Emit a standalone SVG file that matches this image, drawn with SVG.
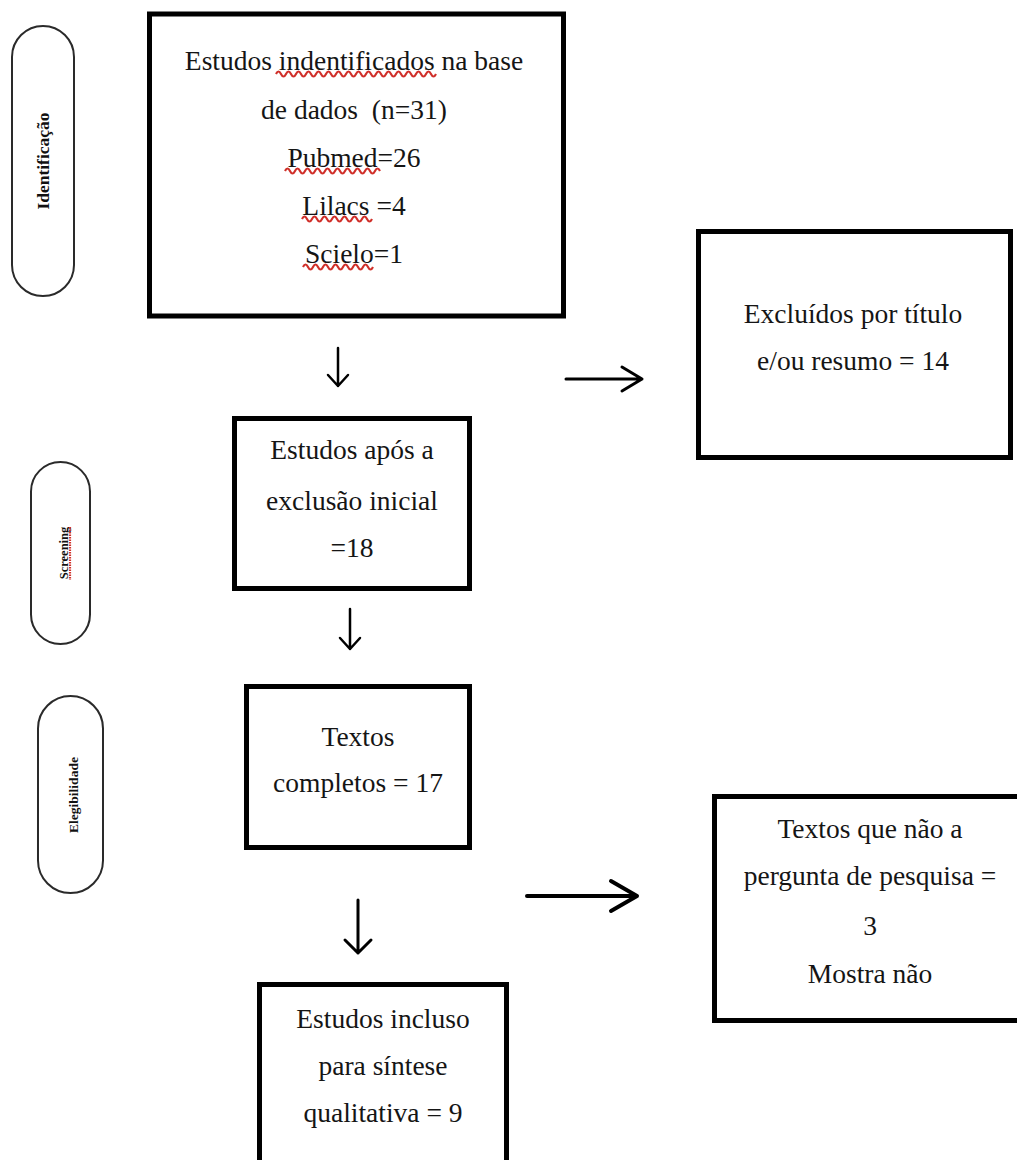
<svg xmlns="http://www.w3.org/2000/svg" width="1017" height="1160" viewBox="0 0 1017 1160">
<style>
.box{fill:#fff;stroke:#000;stroke-width:5}
.pill{fill:#fff;stroke:#2a2a2a;stroke-width:2}
.t{font-family:"Liberation Serif","Times New Roman",serif;font-size:27.5px;fill:#151515;text-anchor:middle}
.side{font-family:"Liberation Serif","Times New Roman",serif;font-weight:bold;fill:#111;text-anchor:middle}
.arr{fill:none;stroke:#000;stroke-linecap:round;stroke-linejoin:round}
.sq{fill:none;stroke:#d0302a;stroke-width:2.2}
</style>
<rect width="1017" height="1160" fill="#fff"/>

<g id="stage-identificacao">
<rect class="pill" x="12" y="26" width="62" height="270" rx="31"/>
<text class="side" font-size="17.5" transform="translate(49,161) rotate(-90)">Identificação</text>
</g>
<g id="stage-screening">
<rect class="pill" x="31" y="462" width="59" height="182" rx="29.5"/>
<text class="side" font-size="12.5" transform="translate(68,553) rotate(-90)">Screening</text>
<path class="sq" stroke-width="1" stroke-dasharray="1.5 1" d="M70,527 L70,580"/>
</g>
<g id="stage-elegibilidade">
<rect class="pill" x="38" y="696" width="65" height="197" rx="32.5"/>
<text class="side" font-size="13.5" transform="translate(78,795) rotate(-90)">Elegibilidade</text>
</g>

<g id="node-identificados">
<rect class="box" x="149.5" y="14" width="414" height="302"/>
<text class="t" x="354" y="70">Estudos indentificados na base</text>
<text class="t" x="354" y="119">de dados&#160; (n=31)</text>
<text class="t" x="354" y="167">Pubmed=26</text>
<text class="t" x="354" y="215">Lilacs =4</text>
<text class="t" x="354" y="263">Scielo=1</text>
<path class="sq" d="M276,74 q2.5,-5 5,0 t5,0 t5,0 t5,0 t5,0 t5,0 t5,0 t5,0 t5,0 t5,0 t5,0 t5,0 t5,0 t5,0 t5,0 t5,0 t5,0 t5,0 t5,0 t5,0 t5,0 t5,0 t5,0 t5,0 t5,0 t5,0 t5,0 t5,0 t5,0 t5,0 t5,0 t5,0"/>
<path class="sq" d="M285,171 q2.5,-5 5,0 t5,0 t5,0 t5,0 t5,0 t5,0 t5,0 t5,0 t5,0 t5,0 t5,0 t5,0 t5,0 t5,0 t5,0 t5,0 t5,0 t5,0 t5,0"/>
<path class="sq" d="M302,219 q2.5,-5 5,0 t5,0 t5,0 t5,0 t5,0 t5,0 t5,0 t5,0 t5,0 t5,0 t5,0 t5,0 t5,0 t5,0"/>
<path class="sq" d="M303,267 q2.5,-5 5,0 t5,0 t5,0 t5,0 t5,0 t5,0 t5,0 t5,0 t5,0 t5,0 t5,0 t5,0 t5,0 t5,0"/>
</g>

<g id="node-excluidos">
<rect class="box" x="698.5" y="231.5" width="312" height="226"/>
<text class="t" x="853" y="323">Excluídos por título</text>
<text class="t" x="853" y="370">e/ou resumo = 14</text>
</g>

<g id="node-apos-exclusao">
<rect class="box" x="234.5" y="418.5" width="235" height="170"/>
<text class="t" x="352" y="459">Estudos após a</text>
<text class="t" x="352" y="510">exclusão inicial</text>
<text class="t" x="352" y="557">=18</text>
</g>

<g id="node-textos-completos">
<rect class="box" x="246.5" y="686.5" width="223" height="161"/>
<text class="t" x="358" y="746">Textos</text>
<text class="t" x="358" y="792">completos = 17</text>
</g>

<g id="node-textos-nao">
<rect class="box" x="714.5" y="796.5" width="310" height="224"/>
<text class="t" x="870" y="838">Textos que não a</text>
<text class="t" x="870" y="885">pergunta de pesquisa =</text>
<text class="t" x="870" y="935">3</text>
<text class="t" x="870" y="983">Mostra não</text>
</g>

<g id="node-inclusos">
<rect class="box" x="259.5" y="984.5" width="247" height="190"/>
<text class="t" x="383" y="1028">Estudos incluso</text>
<text class="t" x="383" y="1075">para síntese</text>
<text class="t" x="383" y="1122">qualitativa = 9</text>
</g>

<g id="connectors">
<path class="arr" stroke-width="2.5" d="M338,348 L338,386 M328,375 L338,386 L348,375"/>
<path class="arr" stroke-width="3" d="M566,379 L642,379 M622,367 L642,379 L622,391"/>
<path class="arr" stroke-width="2.5" d="M350,609 L350,649 M340,638 L350,649 L360,638"/>
<path class="arr" stroke-width="4" d="M527,896 L637,896 M611,881 L637,896 L611,911"/>
<path class="arr" stroke-width="3" d="M358,900 L358,953 M345,940 L358,953 L371,940"/>
</g>
</svg>
